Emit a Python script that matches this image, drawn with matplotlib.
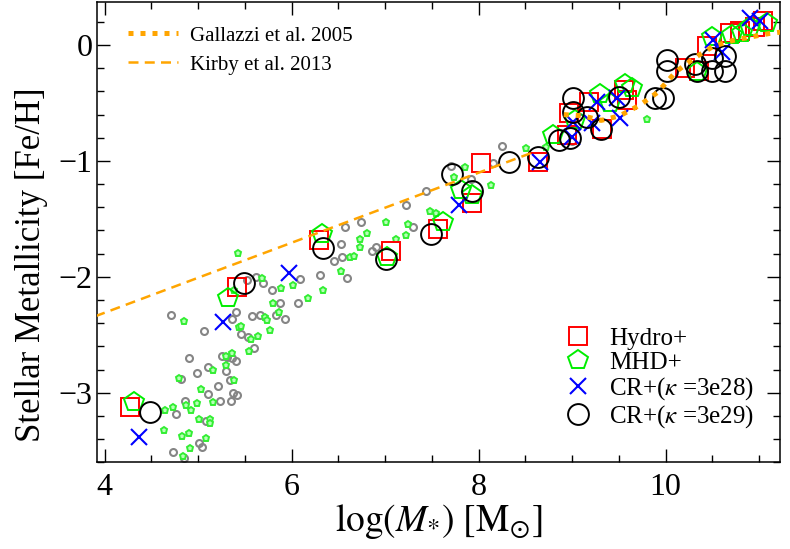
import matplotlib
matplotlib.use("Agg")
import matplotlib.pyplot as plt
from matplotlib.ticker import MultipleLocator

plt.rcParams['font.family'] = ['Liberation Serif', 'DejaVu Serif']
plt.rcParams['mathtext.fontset'] = 'stix'

# background dwarfs (small symbols)
gray_x = [4.71, 5.06, 5.40, 5.36, 5.58, 5.66, 5.83, 5.93, 5.46, 5.53, 5.60, 5.79,
          5.88, 6.07, 6.09, 5.52, 5.62, 5.69, 4.90, 4.99, 5.10, 5.30, 5.26, 5.31,
          5.36, 5.40, 5.21, 5.11, 5.37, 5.42, 5.23, 5.35, 4.86, 4.76, 5.08, 5.01,
          5.04, 4.73, 4.85, 4.82, 5.34, 8.25, 8.15, 7.70, 7.92, 7.44, 7.22, 6.74,
          6.57, 7.30, 6.53, 6.54, 6.45, 6.86, 6.90, 6.30, 6.59, 9.00]
gray_y = [-2.33, -2.47, -2.30, -2.36, -2.34, -2.33, -2.33, -2.36, -2.49, -2.52, -2.61, -2.11,
          -2.23, -2.23, -2.02, -2.03, -2.00, -2.05, -2.70, -2.83, -2.78, -2.81, -2.68, -2.69,
          -2.70, -2.73, -2.94, -3.01, -3.00, -3.02, -3.07, -3.07, -3.07, -3.18, -3.24, -3.43,
          -3.47, -3.51, -3.56, -2.88, -2.89, -0.87, -1.02, -1.04, -1.16, -1.26, -1.38, -1.53,
          -1.57, -1.57, -1.72, -1.83, -1.86, -1.78, -1.74, -1.98, -2.01, -0.83]
lgreen_x = [5.43, 4.85, 5.68, 5.89, 6.01, 6.17, 5.80, 5.87, 5.72, 5.74, 5.77, 5.64,
            5.56, 5.54, 5.44, 5.46, 5.38, 5.36, 5.30, 5.30, 5.16, 5.38, 4.79, 5.03,
            5.16, 4.99, 4.87, 4.92, 4.73, 4.65, 5.01, 5.13, 5.13, 4.63, 4.83, 4.90,
            5.08, 4.91, 4.84, 8.51, 8.13, 7.85, 7.74, 7.48, 7.54, 7.01, 7.24, 7.22,
            7.12, 6.81, 6.73, 6.73, 6.62, 6.67, 6.53, 6.33, 9.80, 8.72]
lgreen_y = [-1.79, -2.38, -2.01, -2.10, -2.07, -2.18, -2.23, -2.30, -2.35, -2.37, -2.46, -2.51,
            -2.54, -2.64, -2.43, -2.42, -2.11, -2.66, -2.68, -2.76, -2.80, -2.89, -2.87, -2.97,
            -3.08, -3.09, -3.11, -3.15, -3.12, -3.15, -3.23, -3.23, -3.26, -3.32, -3.37, -3.35,
            -3.39, -3.48, -3.55, -0.89, -1.21, -1.05, -1.14, -1.43, -1.45, -1.53, -1.54, -1.64,
            -1.67, -1.62, -1.67, -1.74, -1.83, -1.82, -1.95, -2.11, -0.64, -0.88]

# simulation suites
hydro_x = [4.27, 5.42, 6.29, 7.06, 7.56, 7.93, 8.02, 8.64, 8.95, 8.97, 9.18, 9.32,
           9.55, 9.59, 10.21, 10.36, 10.44, 10.69, 10.80, 10.96, 11.04]
hydro_y = [-3.12, -2.09, -1.68, -1.78, -1.59, -1.36, -1.02, -1.01, -0.78, -0.59, -0.49, -0.72,
           -0.39, -0.47, -0.20, -0.22, -0.01, 0.10, 0.12, 0.16, 0.21]
mhd_x = [4.31, 5.32, 6.32, 7.02, 7.62, 7.81, 7.93, 8.80, 9.03, 9.30, 9.41, 9.57,
         9.64, 10.33, 10.50, 10.71, 10.82, 10.90, 11.08]
mhd_y = [-3.08, -2.18, -1.63, -1.83, -1.53, -1.25, -1.29, -0.78, -0.65, -0.42, -0.50, -0.34,
         -0.37, -0.23, 0.07, 0.09, 0.10, 0.16, 0.19]
cr28_x = [4.37, 5.27, 5.97, 7.79, 8.66, 9.00, 9.01, 9.21, 9.27, 9.48, 9.51, 10.51,
          10.60, 10.90, 11.01]
cr28_y = [-3.38, -2.39, -1.97, -1.38, -1.01, -0.79, -0.66, -0.67, -0.49, -0.46, -0.63, 0.04,
          -0.06, 0.23, 0.21]
cr29_x = [4.49, 5.49, 6.33, 7.01, 7.49, 7.72, 7.93, 8.32, 8.64, 8.86, 8.98, 9.01,
          9.01, 9.16, 9.31, 9.50, 9.89, 9.97, 10.01, 10.01, 10.31, 10.33, 10.50, 10.50,
          10.63, 10.64]
cr29_y = [-3.17, -2.05, -1.75, -1.85, -1.63, -1.11, -1.26, -1.01, -0.97, -0.82, -0.80, -0.46,
          -0.58, -0.62, -0.72, -0.45, -0.46, -0.46, -0.13, -0.22, -0.16, -0.22, -0.11, -0.22,
          -0.09, -0.22]

# observations
gallazzi_x = [8.91, 9.11, 9.31, 9.51, 9.72, 9.91, 10.11, 10.31, 10.51, 10.72, 10.91, 11.11, 11.31]
gallazzi_y = [-0.60, -0.61, -0.65, -0.61, -0.52, -0.41, -0.23, -0.11, -0.01, 0.04, 0.07, 0.10, 0.12]
kirby_x = [3.9, 8.6]
kirby_y = [-2.34, -0.92]

fig = plt.figure(figsize=(7.9, 5.49), dpi=100)
ax = fig.add_axes([0.123, 0.158, 0.864, 0.838])

ax.plot(gray_x, gray_y, 'o', ms=5, mfc='none', mec='#858585', mew=1.5, zorder=1)
ax.plot(lgreen_x, lgreen_y, 'p', ms=5, mfc='#b8ffb8', mec='#33ee33', mew=1.4, zorder=1)

h1, = ax.plot(hydro_x, hydro_y, 's', ms=13, mfc='none', mec='red', mew=1.4, label='Hydro+', zorder=2)
h2, = ax.plot(mhd_x, mhd_y, 'p', ms=15, mfc='none', mec='#00ee00', mew=1.4, label='MHD+', zorder=3)
h3, = ax.plot(cr28_x, cr28_y, 'x', ms=12, mec='blue', mew=1.5, label=r'CR+($\kappa$ =3e28)', zorder=4)
h4, = ax.plot(cr29_x, cr29_y, 'o', ms=15, mfc='none', mec='black', mew=1.4, label=r'CR+($\kappa$ =3e29)', zorder=5)

l1, = ax.plot(gallazzi_x, gallazzi_y, color='orange', lw=3.6, ls=(0, (1, 1.4)),
              label='Gallazzi et al. 2005', zorder=6)
l2, = ax.plot(kirby_x, kirby_y, color='orange', lw=1.8, ls=(0, (4, 2.5)),
              label='Kirby et al. 2013', zorder=6)

ax.set_xlim(3.92, 11.22)
ax.set_ylim(-3.6, 0.37)
ax.xaxis.set_major_locator(MultipleLocator(2))
ax.xaxis.set_minor_locator(MultipleLocator(0.5))
ax.yaxis.set_major_locator(MultipleLocator(1))
ax.yaxis.set_minor_locator(MultipleLocator(0.2))
ax.tick_params(which='both', direction='in', top=True, right=True, labelsize=23)
ax.tick_params(axis='x', pad=8)
ax.tick_params(which='major', length=9.5, width=1.0)
ax.tick_params(which='minor', length=5, width=1.0)
for s in ax.spines.values():
    s.set_linewidth(1.1)

ax.set_xlabel(r'$\log(M_{*})\ [\mathrm{M}_{\odot}]$', fontsize=27, labelpad=0)
ax.set_ylabel('Stellar Metallicity [Fe/H]', fontsize=25)
ax.yaxis.set_label_coords(-0.072, 0.43)

leg1 = ax.legend(handles=[l1, l2], loc='upper left', frameon=False, fontsize=15,
                 handlelength=2.4, handletextpad=0.6, labelspacing=0.45,
                 borderpad=0, borderaxespad=0, bbox_to_anchor=(0.045, 0.948))
ax.add_artist(leg1)
ax.legend(handles=[h1, h2, h3, h4], loc='lower left', frameon=False, fontsize=18,
          handlelength=1.15, handletextpad=0.65, labelspacing=0.05,
          borderpad=0, borderaxespad=0, bbox_to_anchor=(0.684, 0.07))

fig.savefig('out.png', dpi=100)
